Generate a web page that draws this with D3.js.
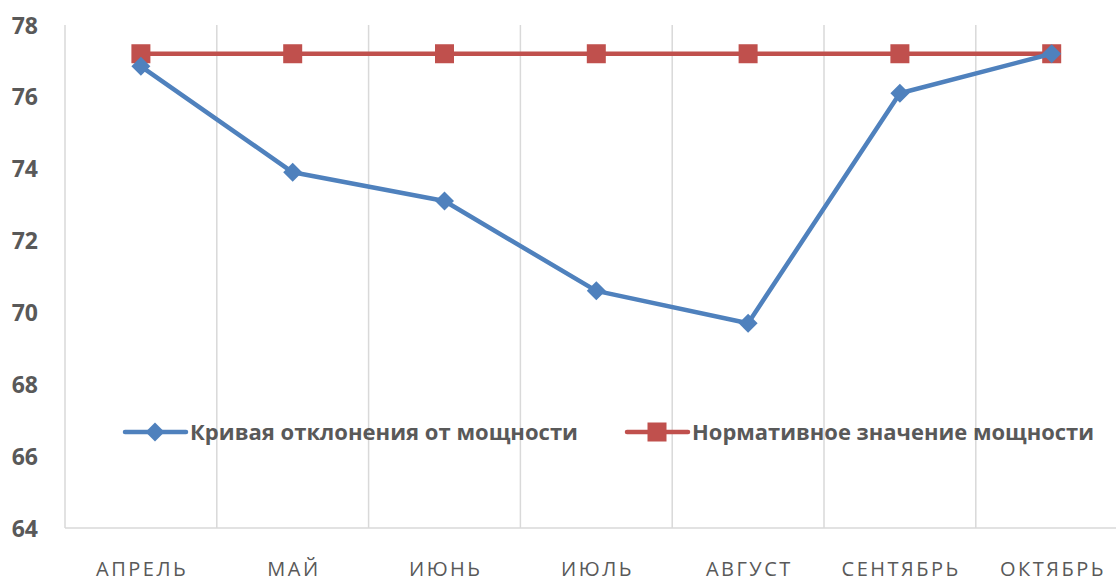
<!DOCTYPE html>
<html>
<head>
<meta charset="utf-8">
<script src="https://cdn.jsdelivr.net/npm/d3@7"></script>
<style>
  html, body { margin: 0; padding: 0; background: #fff; }
  svg { display: block; }
</style>
</head>
<body>
<svg id="chart" width="1116" height="583"></svg>
<script>
// Monthly power values
const months = ["АПРЕЛЬ", "МАЙ", "ИЮНЬ", "ИЮЛЬ", "АВГУСТ", "СЕНТЯБРЬ", "ОКТЯБРЬ"];
const deviation = [76.85, 73.9, 73.1, 70.6, 69.7, 76.1, 77.2];
const normative = [77.2, 77.2, 77.2, 77.2, 77.2, 77.2, 77.2];
const yTicks = [64, 66, 68, 70, 72, 74, 76, 78];
const seriesNames = ["Кривая отклонения от мощности", "Нормативное значение мощности"];

const svg = d3.select("#chart");
const left = 65, bandW = 151.8;
const x = d3.scaleBand().domain(months).range([left, left + bandW * months.length]).padding(0);
const y = d3.scaleLinear().domain([64, 78]).range([528, 25]);

const grid = "#d9d9d9";
const textCol = "#595959";

// vertical category separators
const bounds = d3.range(months.length + 1).map(i => left + i * bandW);
svg.append("g").selectAll("line").data(bounds).join("line")
  .attr("x1", d => d).attr("x2", d => d)
  .attr("y1", y(78)).attr("y2", y(64))
  .attr("stroke", grid).attr("stroke-width", 1.5);

// baseline
svg.append("line")
  .attr("x1", left).attr("x2", 1116)
  .attr("y1", y(64)).attr("y2", y(64))
  .attr("stroke", grid).attr("stroke-width", 1.5);

// y axis labels
const yAxis = d3.axisLeft(y).tickValues(yTicks).tickSize(0).tickPadding(0);
const yg = svg.append("g").attr("transform", "translate(38,0)").call(yAxis);
yg.select(".domain").remove();
yg.selectAll("text")
  .attr("font-family", "'Open Sans', sans-serif")
  .attr("font-weight", "bold")
  .attr("font-size", 23)
  .attr("fill", textCol)
  .attr("dy", "0.35em");

// x axis labels
const xAxis = d3.axisBottom(x).tickSize(0).tickPadding(0);
const xg = svg.append("g").attr("transform", "translate(0,570)").call(xAxis);
xg.select(".domain").remove();
xg.selectAll("text")
  .attr("font-family", "'Open Sans', sans-serif")
  .attr("font-size", 20)
  .attr("fill", textCol)
  .attr("letter-spacing", "2.5px")
  .attr("dy", "0.3em")
  .attr("dx", "1.25px");

const cx = d => x(d) + x.bandwidth() / 2;
const line = d3.line().x((d, i) => cx(months[i])).y(d => y(d));

const blue = "#4f81bd", red = "#c0504d";

// normative series
svg.append("path").datum(normative)
  .attr("d", line).attr("fill", "none")
  .attr("stroke", red).attr("stroke-width", 4.5);
svg.append("g").selectAll("rect").data(normative).join("rect")
  .attr("x", (d, i) => cx(months[i]) - 9.5).attr("y", d => y(d) - 9.5)
  .attr("width", 19).attr("height", 19).attr("fill", red);

// deviation series
svg.append("path").datum(deviation)
  .attr("d", line).attr("fill", "none")
  .attr("stroke", blue).attr("stroke-width", 4.5).attr("stroke-linejoin", "round");
const diamond = d3.symbol().type(d3.symbolDiamond2).size(230);
svg.append("g").selectAll("path").data(deviation).join("path")
  .attr("d", diamond)
  .attr("transform", (d, i) => `translate(${cx(months[i])},${y(d)})`)
  .attr("fill", blue);

// legend
const legendY = 432;
const legend = [
  { x0: 125, name: seriesNames[0], color: blue, shape: "diamond", textW: 388 },
  { x0: 627, name: seriesNames[1], color: red, shape: "square", textW: 402 }
];
legend.forEach(l => {
  const g = svg.append("g");
  g.append("line").attr("x1", l.x0).attr("x2", l.x0 + 61)
    .attr("y1", legendY).attr("y2", legendY)
    .attr("stroke", l.color).attr("stroke-width", 4.5).attr("stroke-linecap", "round");
  if (l.shape === "diamond") {
    g.append("path").attr("d", diamond)
      .attr("transform", `translate(${l.x0 + 30},${legendY})`).attr("fill", l.color);
  } else {
    g.append("rect").attr("x", l.x0 + 20.5).attr("y", legendY - 9.5)
      .attr("width", 19).attr("height", 19).attr("fill", l.color);
  }
  g.append("text").attr("x", l.x0 + 65).attr("y", legendY).attr("dy", "0.35em")
    .attr("font-family", "'Open Sans', sans-serif").attr("font-weight", "bold")
    .attr("font-size", 22).attr("fill", textCol)
    .attr("textLength", l.textW).attr("lengthAdjust", "spacingAndGlyphs")
    .text(l.name);
});
</script>
</body>
</html>
